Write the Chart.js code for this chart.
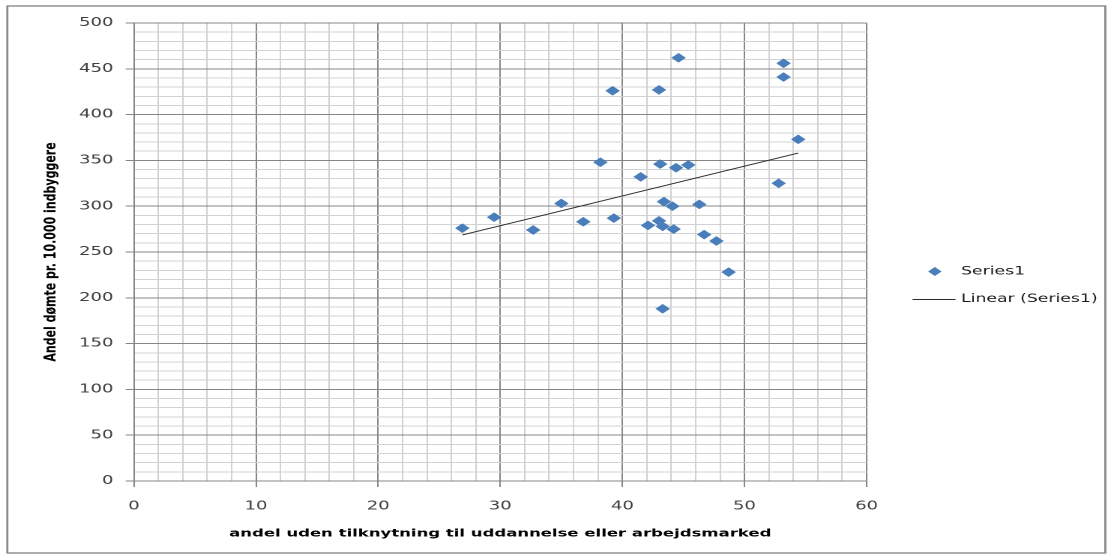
<!DOCTYPE html>
<html><head><meta charset="utf-8">
<script src="https://cdn.jsdelivr.net/npm/chart.js@4/dist/chart.umd.min.js"></script>
<style>
html,body{margin:0;padding:0;background:#fff;overflow:hidden;width:1111px;height:558px;}
#wrap{position:absolute;left:0;top:0;width:741px;height:558px;transform:scaleX(1.49933);transform-origin:0 0;}
canvas{display:block;}
</style></head><body>
<div id="wrap"><canvas id="c" width="741" height="558"></canvas></div>
<script>
// ---- data ----
const xValues = [26.9, 29.5, 32.7, 35.0, 36.8, 38.2, 39.2, 39.3, 41.5, 43.0, 43.1, 44.4, 45.4, 44.6, 43.4, 44.1, 42.1, 43.0, 43.3, 44.2, 46.3, 46.7, 47.7, 48.7, 43.3, 52.8, 54.4, 53.2, 53.2];
const yValues = [276, 288, 274, 303, 283, 348, 426, 287, 332, 427, 346, 342, 345, 462, 305, 300, 279, 284, 278, 275, 302, 269, 262, 228, 188, 325, 373, 456, 441];
const xTickLabels = [0, 10, 20, 30, 40, 50, 60];
const yTickLabels = [0, 50, 100, 150, 200, 250, 300, 350, 400, 450, 500];
const seriesName = 'Series1';
const trendName = 'Linear (Series1)';
const xTitle = 'andel uden tilknytning til uddannelse eller arbejdsmarked';
const yTitle = 'Andel dømte pr. 10.000 indbyggere';

// ---- linear trend (least squares) from the data ----
const n = xValues.length;
const mx = xValues.reduce((a, b) => a + b, 0) / n;
const my = yValues.reduce((a, b) => a + b, 0) / n;
let sxy = 0, sxx = 0;
for (let i = 0; i < n; i++) { sxy += (xValues[i] - mx) * (yValues[i] - my); sxx += (xValues[i] - mx) ** 2; }
const slope = sxy / sxx, intercept = my - slope * mx;
const xMin = Math.min(...xValues), xMax = Math.max(...xValues);
const trendPoints = [xMin, xMax].map(x => ({ x, y: intercept + slope * x }));

const points = xValues.map((x, i) => ({ x, y: yValues[i] }));

const MAJOR = '#868686', MINOR = '#d2d2d2';
const FONT = '"DejaVu Sans", Verdana, sans-serif';

const frame = {
  id: 'frame',
  afterDraw(chart) {
    const ctx = chart.ctx;
    ctx.save();
    ctx.strokeStyle = '#8a8a8a';
    ctx.lineWidth = 1.4;
    ctx.strokeRect(4.9, 6, 732.3, 547);
    ctx.restore();
  }
};

const legendBox = {
  id: 'legendBox',
  afterDraw(chart) {
    const ctx = chart.ctx;
    const ds = chart.data.datasets;
    ctx.save();
    ctx.font = '11.5px ' + FONT;
    ctx.textBaseline = 'middle';
    ctx.textAlign = 'left';
    // marker item
    const cx = 623.5, y1 = 271.5, r = 4.5;
    ctx.fillStyle = ds[0].backgroundColor;
    ctx.beginPath();
    ctx.moveTo(cx - r, y1); ctx.lineTo(cx, y1 - r); ctx.lineTo(cx + r, y1); ctx.lineTo(cx, y1 + r);
    ctx.closePath(); ctx.fill();
    ctx.fillStyle = '#1a1a1a';
    ctx.fillText(ds[0].label, 641, y1);
    // line item
    const y2 = 299;
    ctx.strokeStyle = ds[1].borderColor;
    ctx.lineWidth = 1;
    ctx.beginPath(); ctx.moveTo(608.7, y2 + 0.5); ctx.lineTo(637.3, y2 + 0.5); ctx.stroke();
    ctx.fillText(ds[1].label, 641, y2);
    ctx.restore();
  }
};

new Chart(document.getElementById('c'), {
  type: 'scatter',
  data: {
    datasets: [
      {
        label: seriesName,
        data: points,
        pointStyle: 'rectRot',
        pointRadius: 4.6,
        pointHoverRadius: 4.6,
        backgroundColor: '#4a7ebb',
        borderColor: '#4a7ebb',
        pointBorderWidth: 0.5,
        order: 2
      },
      {
        label: trendName,
        type: 'line',
        data: trendPoints,
        showLine: true,
        borderColor: '#2b2b2b',
        borderWidth: 1,
        pointRadius: 0,
        fill: false,
        order: 1
      }
    ]
  },
  options: {
    responsive: false,
    animation: false,
    devicePixelRatio: 2,
    layout: { padding: { left: 0, top: 23, right: 163, bottom: 0 } },
    plugins: { legend: { display: false }, tooltip: { enabled: false } },
    scales: {
      x: {
        type: 'linear',
        min: 0, max: 60,
        afterFit(s) { s.height = 77; },
        ticks: {
          stepSize: 2, autoSkip: false, maxRotation: 0,
          padding: 12,
          color: '#404040',
          font: { family: FONT, size: 12 },
          callback: v => xTickLabels.includes(v) ? String(v) : ''
        },
        grid: {
          color: c => (c.tick && xTickLabels.includes(c.tick.value)) ? MAJOR : MINOR,
          tickColor: c => (c.tick && xTickLabels.includes(c.tick.value)) ? MAJOR : 'rgba(0,0,0,0)',
          tickLength: 6,
          lineWidth: 1
        },
        border: { color: MAJOR },
        title: {
          display: true, text: xTitle, color: '#000',
          font: { family: FONT, size: 11, weight: 'bold' },
          padding: { top: 0, bottom: 18 }
        }
      },
      y: {
        type: 'linear',
        min: 0, max: 500,
        afterFit(s) { s.width = 89.3; },
        ticks: {
          stepSize: 10, autoSkip: false,
          padding: 8.2,
          color: '#404040',
          font: { family: FONT, size: 12 },
          callback: v => yTickLabels.includes(v) ? String(v) : ''
        },
        grid: {
          color: c => (c.tick && yTickLabels.includes(c.tick.value)) ? MAJOR : MINOR,
          tickColor: c => (c.tick && yTickLabels.includes(c.tick.value)) ? MAJOR : 'rgba(0,0,0,0)',
          tickLength: 5.5,
          lineWidth: 1
        },
        border: { color: MAJOR },
        title: {
          display: true, text: yTitle, color: '#000',
          font: { family: FONT, size: 11, weight: 'bold' },
          padding: { top: 27.5, bottom: 0 }
        }
      }
    }
  },
  plugins: [frame, legendBox]
});
</script>
</body></html>
